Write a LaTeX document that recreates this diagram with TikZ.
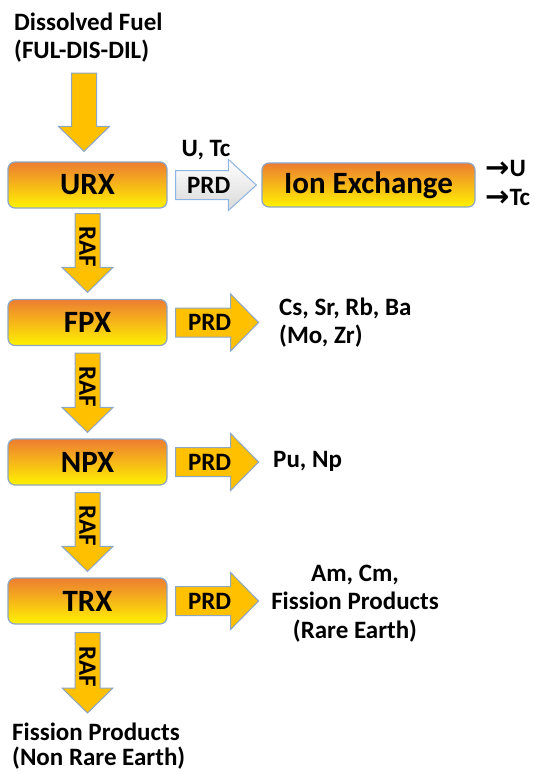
\documentclass[tikz,border=0pt]{standalone}
\usepackage{fontspec}
\setmainfont{Carlito}
\newfontfamily\arrowfont{DejaVu Sans}
\usetikzlibrary{calc}

\definecolor{boxtop}{RGB}{237,125,49}
\definecolor{boxbot}{RGB}{255,242,0}
\definecolor{boxline}{RGB}{141,166,196}
\definecolor{gold}{RGB}{255,192,0}
\definecolor{greyline}{RGB}{142,180,227}

\newcommand{\outarrow}{\raisebox{-1.5pt}{\arrowfont\bfseries\fontsize{29}{29}\selectfont →}}

\tikzset{
  unit/.style={draw=boxline, line width=1.2pt, rounded corners=7pt,
    top color=boxtop, bottom color=boxbot, minimum width=159pt,
    minimum height=46pt, inner sep=0pt,
    font=\bfseries\fontsize{31}{36}\selectfont},
  lab/.style={inner sep=0pt, font=\bfseries\fontsize{25}{28}\selectfont},
  % fat arrow pointing down
  raf/.style={draw=boxline, line width=1pt, fill=gold,
    to path={let \p1=(\tikztostart), \p2=(\tikztotarget) in
      (\x1-12.5pt,\y1) -- (\x1+12.5pt,\y1) -- (\x1+12.5pt,\y2+25pt)
      -- (\x1+25.5pt,\y2+25pt) -- (\x1,\y2) -- (\x1-25.5pt,\y2+25pt)
      -- (\x1-12.5pt,\y2+25pt) -- cycle}},
  % fat arrow pointing right
  prd/.style={draw=boxline, line width=1pt, fill=gold,
    to path={let \p1=(\tikztostart), \p2=(\tikztotarget) in
      (\x1,\y1+14.5pt) -- (\x2-28pt,\y1+14.5pt) -- (\x2-28pt,\y1+#1)
      -- (\x2,\y1) -- (\x2-28pt,\y1-#1) -- (\x2-28pt,\y1-14.5pt)
      -- (\x1,\y1-14.5pt) -- cycle}},
  prd/.default=28.5pt
}

\begin{document}
\begin{tikzpicture}[x=1pt, y=-1pt]
\useasboundingbox (0,0) rectangle (534,774);

% units
\node[unit] (urx) at (87.5,185)   {URX};
\node[unit] (fpx) at (87.5,322.5) {FPX};
\node[unit] (npx) at (87.5,462)   {NPX};
\node[unit] (trx) at (87.5,601)   {TRX};
\node[unit, minimum width=213pt, minimum height=44pt] (ionx) at (368.5,185) {Ion Exchange};

% streams in and out (base = last line)
\node[lab, align=left, anchor=base west] (feed) at (14,58) {Dissolved Fuel\\(FUL-DIS-DIL)};
\node[lab, anchor=base] (utc) at (206,156) {U, Tc};
\node[lab, align=left, anchor=base west, font=\bfseries\fontsize{25}{29}\selectfont]
  (ionout) at (485,205) {\outarrow U\\\outarrow Tc};
\node[lab, align=left, anchor=base west] (fpxout) at (279,343) {Cs, Sr, Rb, Ba\\(Mo, Zr)};
\node[lab, anchor=base west] (npxout) at (273,467) {Pu, Np};
\node[lab, align=center, anchor=base, font=\bfseries\fontsize{25}{28.5}\selectfont]
  (trxout) at (355,638) {Am, Cm,\\Fission Products\\(Rare Earth)};
\node[lab, align=left, anchor=base west, font=\bfseries\fontsize{25}{25}\selectfont]
  (waste) at (12,765) {Fission Products\\(Non Rare Earth)};

% raffinate arrows
\coordinate (f0) at (84,73);
\coordinate (f1) at ([xshift=-3.5pt, yshift=10pt]urx.north);
\coordinate (r1a) at ([yshift=-5pt]urx.south);
\coordinate (r1b) at ([yshift=6.5pt]fpx.north);
\coordinate (r2a) at ([yshift=-7pt]fpx.south);
\coordinate (r2b) at ([yshift=6pt]npx.north);
\coordinate (r3a) at ([yshift=-7pt]npx.south);
\coordinate (r3b) at ([yshift=6pt]trx.north);
\coordinate (r4a) at ([yshift=-8pt]trx.south);
\coordinate (r4b) at (87.5,713);
\path (f0) edge[raf] (f1);
\path (r1a) edge[raf] (r1b);
\path (r2a) edge[raf] (r2b);
\path (r3a) edge[raf] (r3b);
\path (r4a) edge[raf] (r4b);
\path (r1a) -- node[lab, pos=.42, rotate=-90] {RAF} (r1b);
\path (r2a) -- node[lab, pos=.42, rotate=-90] {RAF} (r2b);
\path (r3a) -- node[lab, pos=.42, rotate=-90] {RAF} (r3b);
\path (r4a) -- node[lab, pos=.42, rotate=-90] {RAF} (r4b);

% product arrows
\coordinate (p1a) at ([xshift=8pt]urx.east);
\coordinate (p1b) at ([xshift=-5pt]ionx.west);
\coordinate (p2a) at ([xshift=8pt]fpx.east);
\coordinate (p2b) at ([xshift=91pt]fpx.east);
\coordinate (p3a) at ([xshift=8pt]npx.east);
\coordinate (p3b) at ([xshift=91pt]npx.east);
\coordinate (p4a) at ([xshift=8pt]trx.east);
\coordinate (p4b) at ([xshift=91pt]trx.east);
\path (p1a) edge[prd=25.5pt, draw=greyline, top color=white, bottom color=gray!30] (p1b);
\path (p2a) edge[prd] (p2b);
\path (p3a) edge[prd] (p3b);
\path (p4a) edge[prd] (p4b);
\path (p1a) -- node[lab, pos=.41] {PRD} (p1b);
\path (p2a) -- node[lab, pos=.41] {PRD} (p2b);
\path (p3a) -- node[lab, pos=.41] {PRD} (p3b);
\path (p4a) -- node[lab, pos=.41] {PRD} (p4b);
\end{tikzpicture}
\end{document}
